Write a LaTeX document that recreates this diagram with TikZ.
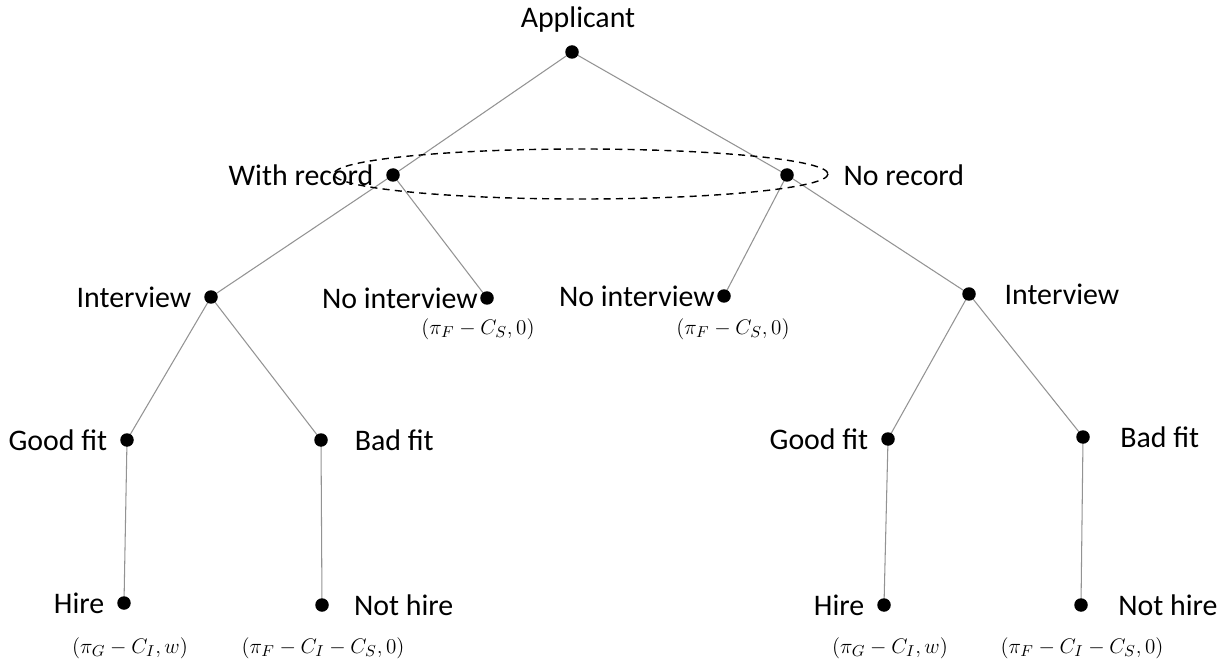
\documentclass[tikz,border=0pt]{standalone}
\usepackage{fontspec}
\setmainfont{Carlito}
\usetikzlibrary{positioning}

\tikzset{
    dot/.style={circle, fill=black, inner sep=0pt, minimum size=0.27cm},
    lbl/.style={inner sep=0pt, font=\fontsize{17}{20}\selectfont},
    payoff/.style={inner sep=0pt, font=\fontsize{12.5}{15}\selectfont},
    branch/.style={draw=gray!85, line width=0.6pt}
}

\pgfdeclarelayer{back}
\pgfsetlayers{back,main}

\begin{document}
\begin{tikzpicture}[x=0.02cm, y=-0.02cm]
    \useasboundingbox ({0}, {0}) rectangle ({1226}, {665});

    % Decision nodes
    \node[dot] (app) at ({572}, {52}) {};
    \node[dot] (wr) at ({393}, {175}) {};
    \node[dot] (nr) at ({787}, {175}) {};
    \node[dot] (iwl) at ({211}, {297}) {};
    \node[dot] (niwl) at ({487}, {298}) {};
    \node[dot] (niwr) at ({724}, {296}) {};
    \node[dot] (iwr) at ({969}, {294}) {};
    \node[dot] (gfl) at ({127}, {440}) {};
    \node[dot] (bfl) at ({321}, {440}) {};
    \node[dot] (gfr) at ({888}, {439}) {};
    \node[dot] (bfr) at ({1083}, {437}) {};
    \node[dot] (hl) at ({124}, {603}) {};
    \node[dot] (nhl) at ({322}, {605}) {};
    \node[dot] (hr) at ({884}, {605}) {};
    \node[dot] (nhr) at ({1081}, {605}) {};

    % Labels
    \node[lbl] (lapp) at ({578}, {20}) {Applicant};
    \node[lbl, left=7pt of wr] (lwr) {With record};
    \node[lbl, right=28pt of nr] (lnr) {No record};
    \node[lbl, left=7pt of iwl] (liwl) {Interview};
    \node[lbl, left=1pt of niwl] (lniwl) {No interview};
    \node[lbl, left=1pt of niwr] (lniwr) {No interview};
    \node[lbl, right=16pt of iwr] (liwr) {Interview};
    \node[lbl, left=7pt of gfl] (lgfl) {Good fit};
    \node[lbl, right=15pt of bfl] (lbfl) {Bad fit};
    \node[lbl, left=7pt of gfr] (lgfr) {Good fit};
    \node[lbl, right=17pt of bfr] (lbfr) {Bad fit};
    \node[lbl, left=7pt of hl] (lhl) {Hire};
    \node[lbl, right=14pt of nhl] (lnhl) {Not hire};
    \node[lbl, left=7pt of hr] (lhr) {Hire};
    \node[lbl, right=17pt of nhr] (lnhr) {Not hire};

    % Payoffs
    \node[payoff] (pniwl) at ({478}, {329}) {$(\pi_F-C_S,0)$};
    \node[payoff] (pniwr) at ({733}, {329}) {$(\pi_F-C_S,0)$};
    \node[payoff] (phl) at ({130}, {648}) {$(\pi_G-C_I,w)$};
    \node[payoff] (pnhl) at ({323}, {648}) {$(\pi_F-C_I-C_S,0)$};
    \node[payoff] (phr) at ({890}, {648}) {$(\pi_G-C_I,w)$};
    \node[payoff] (pnhr) at ({1082}, {648}) {$(\pi_F-C_I-C_S,0)$};

    % Branches
    \begin{pgfonlayer}{back}
        \draw[branch] (app.center) -- (wr.center);
        \draw[branch] (app.center) -- (nr.center);
        \draw[branch] (wr.center) -- (iwl.center);
        \draw[branch] (wr.center) -- (niwl.center);
        \draw[branch] (nr.center) -- (niwr.center);
        \draw[branch] (nr.center) -- (iwr.center);
        \draw[branch] (iwl.center) -- (gfl.center);
        \draw[branch] (iwl.center) -- (bfl.center);
        \draw[branch] (iwr.center) -- (gfr.center);
        \draw[branch] (iwr.center) -- (bfr.center);
        \draw[branch] (gfl.center) -- (hl.center);
        \draw[branch] (bfl.center) -- (nhl.center);
        \draw[branch] (gfr.center) -- (hr.center);
        \draw[branch] (bfr.center) -- (nhr.center);
    \end{pgfonlayer}

    % Information set
    \draw[line width=0.8pt, dash pattern=on 4pt off 3pt] ({581}, {174}) ellipse [x radius=247, y radius=25];
\end{tikzpicture}
\end{document}
